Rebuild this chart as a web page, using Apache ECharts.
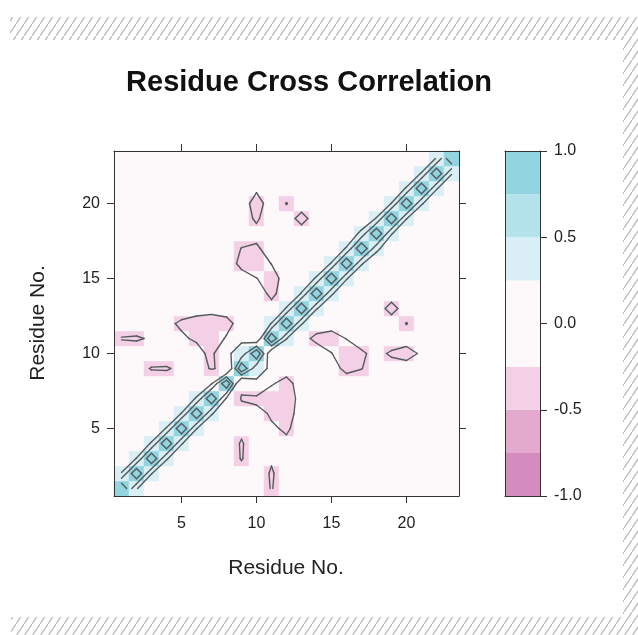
<!DOCTYPE html>
<html><head><meta charset="utf-8">
<script src="https://cdn.jsdelivr.net/npm/echarts@6/dist/echarts.min.js"></script>
<style>html,body{margin:0;padding:0;background:#fff}#c{width:638px;height:635px}</style>
</head><body><div id="c"></div>
<script>
// Residue numbers (both axes)
const residues = [1,2,3,4,5,6,7,8,9,10,11,12,13,14,15,16,17,18,19,20,21,22,23];
// Correlation matrix: row r = residue on y axis, column c = residue on x axis
const corrRows = [
 [1,.27,0,0,0,0,0,0,0,-.15,-.26,-.15,0,0,0,0,0,0,0,0,0,0,0],
 [.27,1,.26,0,0,0,0,0,-.22,-.15,-.27,-.15,0,0,0,0,0,0,0,0,0,0,0],
 [0,.26,1,.28,0,0,0,-.2,-.255,-.2,-.23,0,0,0,0,0,0,0,0,0,0,0,0],
 [0,0,.28,1,.27,0,0,-.2,-.258,-.2,0,-.18,0,0,0,0,0,0,0,0,0,0,0],
 [0,0,0,.27,1,.26,0,0,-.23,0,-.2,-.3,-.1,0,0,0,0,0,0,0,0,0,0],
 [0,0,0,0,.26,1,.28,0,-.1,-.12,-.3,-.35,-.15,0,0,0,0,0,0,0,0,0,0],
 [0,0,0,0,0,.28,1,.22,-.28,-.35,-.42,-.4,-.15,0,0,0,0,0,0,0,0,0,0],
 [0,0,-.2,-.2,0,0,.22,1,-.15,.22,-.22,-.35,-.12,0,0,-.05,-.05,0,0,0,0,0,0],
 [0,-.22,-.255,-.258,-.23,-.1,-.28,-.15,1,.32,.22,-.12,0,0,-.1,-.35,-.26,-.1,-.1,-.1,0,0,0],
 [-.15,-.15,-.2,-.2,0,-.12,-.35,.22,.32,1,-.02,0,0,-.1,-.24,-.45,-.3,-.15,-.3,-.38,-.2,0,0],
 [-.26,-.27,-.23,0,-.2,-.3,-.42,-.22,.22,-.02,1,.26,-.15,-.32,-.4,-.24,-.1,0,-.05,-.1,0,0,0],
 [-.15,-.15,0,-.18,-.3,-.35,-.4,-.35,-.12,0,.26,1,.28,-.1,-.1,-.1,0,0,-.1,-.26,-.1,0,0],
 [0,0,0,0,-.1,-.15,-.15,-.12,0,0,-.15,.28,1,.27,0,0,0,-.1,-.36,-.1,0,0,0],
 [0,0,0,0,0,0,0,0,0,-.1,-.32,-.1,.27,1,.29,0,0,0,-.1,0,0,0,0],
 [0,0,0,0,0,0,0,0,-.1,-.24,-.4,-.1,0,.29,1,.27,0,0,0,0,0,0,0],
 [0,0,0,0,0,0,0,-.05,-.35,-.45,-.24,-.1,0,0,.27,1,.28,0,0,0,0,0,0],
 [0,0,0,0,0,0,0,-.05,-.26,-.3,-.1,0,0,0,0,.28,1,.33,0,0,0,0,0],
 [0,0,0,0,0,0,0,0,-.1,-.15,0,0,-.1,0,0,0,.33,1,.27,0,0,0,0],
 [0,0,0,0,0,0,0,0,-.1,-.3,-.05,-.1,-.36,-.1,0,0,0,.27,1,.26,0,0,0],
 [0,0,0,0,0,0,0,0,-.1,-.38,-.1,-.26,-.1,0,0,0,0,0,.26,1,.28,0,0],
 [0,0,0,0,0,0,0,0,0,-.2,0,-.1,0,0,0,0,0,0,0,.28,1,.27,0],
 [0,0,0,0,0,0,0,0,0,0,0,0,0,0,0,0,0,0,0,0,.27,1,.27],
 [0,0,0,0,0,0,0,0,0,0,0,0,0,0,0,0,0,0,0,0,0,.27,1]
];
const levelBreaks = [-1,-0.75,-0.5,-0.25,0.25,0.5,0.75,1];
const levelColors = ['#d48bbd','#e3aacd','#f3d0e5','#fdf9fb','#d9eff5','#b5e3eb','#93d4e1'];
const contourLevels = [-0.75,-0.5,-0.25,0.25,0.5,0.75];
const axisTicks = [5,10,15,20];
const titleText = 'Residue Cross Correlation';
const axisTitle = 'Residue No.';

const FONT = 'Liberation Sans, Arial, Helvetica, sans-serif';
const N = residues.length;
const val = (ci, ri) => corrRows[ri][ci];

function cellColor(v){
  for (let k = 0; k < levelColors.length; k++) if (v <= levelBreaks[k+1]) return levelColors[k];
  return levelColors[levelColors.length-1];
}

// cells
const cells = [];
for (let r = 0; r < N; r++) for (let c = 0; c < N; c++) cells.push([residues[c], residues[r], val(c, r)]);

// contour segments (marching squares on the data grid)
const segs = [];
contourLevels.forEach(L => {
  for (let r = 0; r < N-1; r++) for (let c = 0; c < N-1; c++) {
    const a = val(c,r), b = val(c+1,r), cc = val(c+1,r+1), d = val(c,r+1);
    const X0 = residues[c], X1 = residues[c+1], Y0 = residues[r], Y1 = residues[r+1];
    const ab = a>=L, bb = b>=L, cb = cc>=L, db = d>=L;
    const E = {};
    if (ab !== bb) { const t=(L-a)/(b-a); E.bottom=[X0+t*(X1-X0), Y0]; }
    if (bb !== cb) { const t=(L-b)/(cc-b); E.right=[X1, Y0+t*(Y1-Y0)]; }
    if (db !== cb) { const t=(L-d)/(cc-d); E.top=[X0+t*(X1-X0), Y1]; }
    if (ab !== db) { const t=(L-a)/(d-a); E.left=[X0, Y0+t*(Y1-Y0)]; }
    const keys = Object.keys(E);
    const add = (p,q) => segs.push([p[0],p[1],q[0],q[1]]);
    if (keys.length === 2) add(E[keys[0]], E[keys[1]]);
    else if (keys.length === 4) {
      const centerAbove = (a+b+cc+d)/4 >= L;
      if (ab === centerAbove) { add(E.bottom,E.right); add(E.left,E.top); }
      else { add(E.bottom,E.left); add(E.right,E.top); }
    }
  }
});

const bars = [];
for (let k = 0; k < levelColors.length; k++) bars.push([k, levelBreaks[k], levelBreaks[k+1]]);

// hatch pattern
const pc = document.createElement('canvas'); pc.width = 8; pc.height = 12;
const g = pc.getContext('2d'); g.strokeStyle = '#bcbcbc'; g.lineWidth = 1.3;
g.beginPath(); g.moveTo(-1,13.5); g.lineTo(9,-1.5); g.stroke();
const hatch = {image: pc, repeat: 'repeat'};

const chart = echarts.init(document.getElementById('c'), null, {renderer:'canvas'});
const lineC = '#333';
const tickLabel = {fontSize:16, color:'#222', fontFamily:FONT};
chart.setOption({
  animation:false,
  backgroundColor:'#ffffff',
  grid:[
    {left:114, top:151, width:345, height:345, outerBoundsMode:'none', containLabel:false},
    {left:505, top:151, width:35, height:345, outerBoundsMode:'none', containLabel:false}
  ],
  xAxis:[
    {gridIndex:0, type:'value', min:0.5, max:23.5, position:'bottom', z:10,
     axisLine:{show:true, onZero:false, lineStyle:{color:lineC, width:1}},
     axisTick:{show:true, customValues:axisTicks, length:7, lineStyle:{color:lineC}},
     axisLabel:Object.assign({customValues:axisTicks, margin:20}, tickLabel),
     splitLine:{show:false}},
    {gridIndex:0, type:'value', min:0.5, max:23.5, position:'top', z:10,
     axisLine:{show:true, onZero:false, lineStyle:{color:lineC, width:1}},
     axisTick:{show:true, customValues:axisTicks, length:7, lineStyle:{color:lineC}},
     axisLabel:{show:false}, splitLine:{show:false}},
    {gridIndex:1, type:'value', min:0, max:1, position:'bottom', z:10,
     axisLine:{show:true, onZero:false, lineStyle:{color:lineC}}, axisTick:{show:false}, axisLabel:{show:false}, splitLine:{show:false}},
    {gridIndex:1, type:'value', min:0, max:1, position:'top', z:10,
     axisLine:{show:true, onZero:false, lineStyle:{color:lineC}}, axisTick:{show:false}, axisLabel:{show:false}, splitLine:{show:false}}
  ],
  yAxis:[
    {gridIndex:0, type:'value', min:0.5, max:23.5, position:'left', z:10,
     axisLine:{show:true, onZero:false, lineStyle:{color:lineC, width:1}},
     axisTick:{show:true, customValues:axisTicks, length:7, lineStyle:{color:lineC}},
     axisLabel:Object.assign({customValues:axisTicks, margin:14}, tickLabel),
     splitLine:{show:false}},
    {gridIndex:0, type:'value', min:0.5, max:23.5, position:'right', z:10,
     axisLine:{show:true, onZero:false, lineStyle:{color:lineC, width:1}},
     axisTick:{show:true, customValues:axisTicks, length:7, lineStyle:{color:lineC}},
     axisLabel:{show:false}, splitLine:{show:false}},
    {gridIndex:1, type:'value', min:-1, max:1, interval:0.5, position:'right', z:10,
     axisLine:{show:true, onZero:false, lineStyle:{color:lineC}},
     axisTick:{show:true, length:7, lineStyle:{color:lineC}},
     axisLabel:Object.assign({margin:14, formatter:v=>v.toFixed(1)}, tickLabel),
     splitLine:{show:false}},
    {gridIndex:1, type:'value', min:-1, max:1, position:'left', z:10,
     axisLine:{show:true, onZero:false, lineStyle:{color:lineC}}, axisTick:{show:false}, axisLabel:{show:false}, splitLine:{show:false}}
  ],
  series:[
    {type:'custom', xAxisIndex:0, yAxisIndex:0, z:1, silent:true, data:cells,
     renderItem:(p, api) => {
       const x = api.value(0), y = api.value(1), v = api.value(2);
       const p1 = api.coord([x-0.5, y+0.5]), p2 = api.coord([x+0.5, y-0.5]);
       const col = cellColor(v);
       return {type:'rect', shape:{x:p1[0], y:p1[1], width:p2[0]-p1[0], height:p2[1]-p1[1]},
               style:{fill:col, stroke:col, lineWidth:0.4}};
     }},
    {type:'custom', xAxisIndex:0, yAxisIndex:0, z:3, silent:true, data:segs, clip:true,
     renderItem:(p, api) => {
       const p1 = api.coord([api.value(0), api.value(1)]), p2 = api.coord([api.value(2), api.value(3)]);
       return {type:'line', shape:{x1:p1[0], y1:p1[1], x2:p2[0], y2:p2[1]},
               style:{stroke:'#555b5d', lineWidth:1.4, lineCap:'round'}};
     }},
    {type:'custom', xAxisIndex:2, yAxisIndex:2, z:1, silent:true, data:bars,
     renderItem:(p, api) => {
       const k = api.value(0);
       const p1 = api.coord([0, api.value(2)]), p2 = api.coord([1, api.value(1)]);
       return {type:'rect', shape:{x:p1[0], y:p1[1], width:p2[0]-p1[0], height:p2[1]-p1[1]},
               style:{fill:levelColors[k]}};
     }}
  ],
  graphic:[
    {type:'rect', silent:true, shape:{x:10, y:17, width:628, height:23}, style:{fill:hatch}},
    {type:'rect', silent:true, shape:{x:623, y:40, width:15, height:595}, style:{fill:hatch}},
    {type:'rect', silent:true, shape:{x:11, y:617, width:612, height:18}, style:{fill:hatch}},
    {type:'text', silent:true, x:309, y:83, style:{text:titleText, font:'bold 29px '+FONT, fill:'#111', align:'center', verticalAlign:'middle'}},
    {type:'text', silent:true, x:286, y:568, style:{text:axisTitle, font:'21px '+FONT, fill:'#222', align:'center', verticalAlign:'middle'}},
    {type:'text', silent:true, x:38, y:323, rotation:Math.PI/2, style:{text:axisTitle, font:'21px '+FONT, fill:'#222', align:'center', verticalAlign:'middle'}}
  ]
});
</script></body></html>
